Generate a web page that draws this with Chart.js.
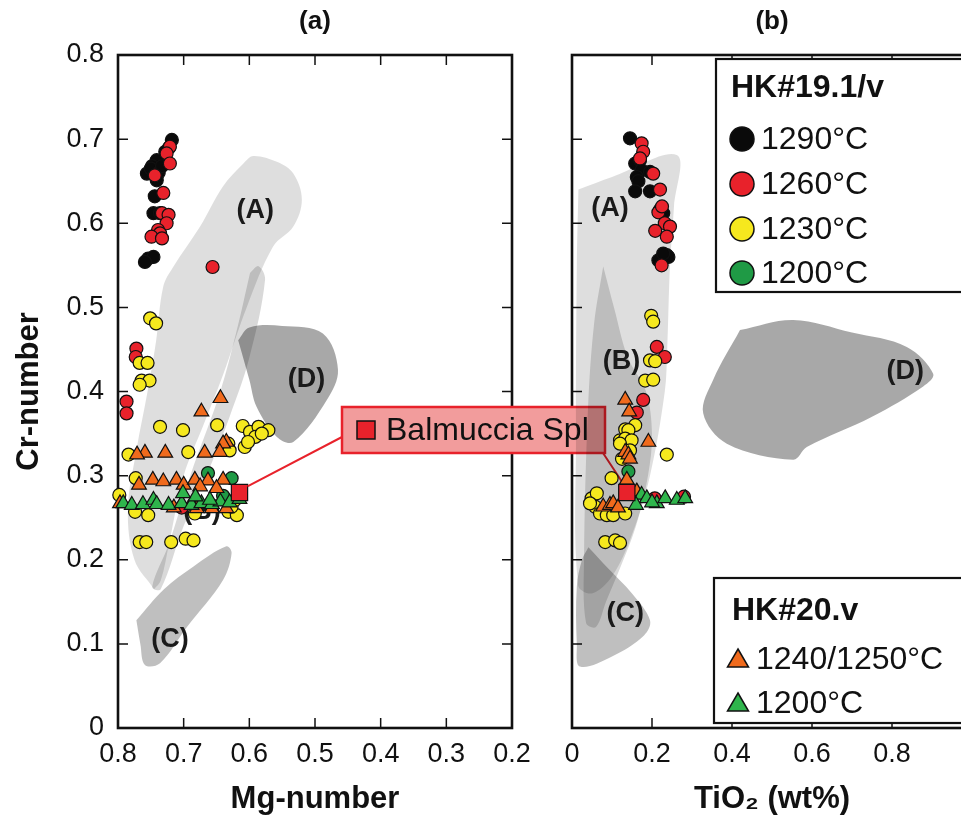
<!DOCTYPE html>
<html>
<head>
<meta charset="utf-8">
<script src="https://cdn.jsdelivr.net/npm/chart.js@4.4.1/dist/chart.umd.min.js"></script>
<style>
  html, body { margin: 0; padding: 0; background: #fff; overflow: hidden; }
  #wrap { position: relative; width: 961px; height: 824px; overflow: hidden; background: #fff; }
  #wrap canvas { position: absolute; left: 0; top: 0; }
</style>
</head>
<body>
<div id="wrap">
  <canvas id="mg-graph" width="1000" height="824"></canvas>
  <canvas id="ti-graph" width="1000" height="824"></canvas>
</div>
<script>
Chart.defaults.font.family = "'Liberation Sans', Arial, Helvetica, sans-serif";
Chart.defaults.color = '#111';

// ---------- panel (a): Mg-number vs Cr-number ----------
const mg1290 = [0.718, 0.722, 0.728, 0.741, 0.748, 0.756, 0.750, 0.738, 0.741, 0.744, 0.746, 0.736, 0.754, 0.746, 0.759, 0.733];
const crA1290 = [0.699, 0.690, 0.685, 0.675, 0.668, 0.659, 0.665, 0.660, 0.651, 0.632, 0.612, 0.612, 0.558, 0.560, 0.554, 0.668];

const mg1260 = [0.721, 0.726, 0.721, 0.744, 0.731, 0.733, 0.723, 0.726, 0.739, 0.736, 0.749, 0.733, 0.656, 0.772, 0.773, 0.787, 0.787, 0.703];
const crA1260 = [0.691, 0.683, 0.671, 0.657, 0.636, 0.612, 0.610, 0.600, 0.592, 0.588, 0.584, 0.582, 0.548, 0.451, 0.441, 0.388, 0.374, 0.262];

const mg1230 = [0.751, 0.742, 0.767, 0.755, 0.764, 0.752, 0.767,
  0.736, 0.701, 0.649, 0.610, 0.599, 0.586, 0.571, 0.591, 0.607, 0.602, 0.581, 0.632,
  0.784, 0.693, 0.630, 0.773, 0.798,
  0.774, 0.754, 0.683, 0.632, 0.619, 0.627, 0.622,
  0.767, 0.757, 0.719, 0.697, 0.685];
const crA1230 = [0.487, 0.481, 0.434, 0.434, 0.413, 0.413, 0.408,
  0.358, 0.354, 0.360, 0.359, 0.352, 0.358, 0.354, 0.346, 0.334, 0.340, 0.350, 0.338,
  0.325, 0.328, 0.330, 0.297, 0.277,
  0.257, 0.253, 0.255, 0.257, 0.253, 0.263, 0.271,
  0.221, 0.221, 0.221, 0.225, 0.223];

const mg1200 = [0.663, 0.627, 0.640];
const crA1200 = [0.303, 0.297, 0.276];

const mgT1245 = [0.644, 0.673, 0.635, 0.640, 0.759, 0.771, 0.728, 0.668, 0.645,
  0.768, 0.747, 0.731, 0.711, 0.700, 0.683, 0.663, 0.640, 0.675, 0.650,
  0.797, 0.680, 0.657, 0.635, 0.715];
const crAT1245 = [0.392, 0.376, 0.340, 0.338, 0.327, 0.325, 0.327, 0.327, 0.328,
  0.289, 0.295, 0.293, 0.295, 0.289, 0.295, 0.294, 0.295, 0.287, 0.285,
  0.267, 0.261, 0.261, 0.261, 0.262];

const mgT1200 = [0.792, 0.779, 0.762, 0.746, 0.741, 0.723, 0.703, 0.688, 0.673, 0.657, 0.644, 0.682, 0.660, 0.630, 0.615, 0.701];
const crAT1200 = [0.267, 0.265, 0.266, 0.271, 0.266, 0.265, 0.267, 0.265, 0.267, 0.266, 0.269, 0.275, 0.271, 0.268, 0.272, 0.279];

// ---------- panel (b): TiO2 vs Cr-number ----------
const ti1290 = [0.145, 0.158, 0.170, 0.174, 0.195, 0.162, 0.166, 0.158, 0.195, 0.220, 0.228, 0.216, 0.237, 0.241, 0.228];
const crB1290 = [0.701, 0.671, 0.675, 0.663, 0.661, 0.655, 0.650, 0.638, 0.638, 0.616, 0.612, 0.556, 0.562, 0.560, 0.564];

const ti1260 = [0.174, 0.178, 0.170, 0.203, 0.220, 0.216, 0.232, 0.208, 0.245, 0.237, 0.225, 0.224, 0.212, 0.232, 0.178, 0.162, 0.207, 0.280];
const crB1260 = [0.695, 0.685, 0.677, 0.659, 0.640, 0.613, 0.600, 0.591, 0.596, 0.584, 0.620, 0.550, 0.453, 0.441, 0.390, 0.375, 0.273, 0.275];

const ti1230 = [0.198, 0.203, 0.195, 0.208, 0.183, 0.203,
  0.158, 0.133, 0.141, 0.120, 0.133, 0.149, 0.120, 0.145, 0.125,
  0.237, 0.099,
  0.049, 0.062, 0.058, 0.070, 0.087, 0.103, 0.133, 0.045,
  0.083, 0.108, 0.120];
const crB1230 = [0.490, 0.483, 0.437, 0.436, 0.413, 0.414,
  0.360, 0.355, 0.354, 0.342, 0.344, 0.342, 0.338, 0.330, 0.320,
  0.325, 0.297,
  0.273, 0.279, 0.263, 0.255, 0.253, 0.253, 0.255, 0.267,
  0.221, 0.223, 0.220];

const ti1200 = [0.141];
const crB1200 = [0.305];

const tiT1245 = [0.133, 0.143, 0.191, 0.133, 0.141, 0.145, 0.137, 0.078, 0.095, 0.103, 0.162, 0.115];
const crBT1245 = [0.390, 0.376, 0.340, 0.328, 0.325, 0.320, 0.295, 0.263, 0.265, 0.267, 0.281, 0.262];

const tiT1200 = [0.174, 0.187, 0.212, 0.233, 0.262, 0.283, 0.200, 0.160];
const crBT1200 = [0.277, 0.273, 0.267, 0.273, 0.271, 0.273, 0.268, 0.265];

// Balmuccia spinel reference
const balMg = [0.615];
const balTi = [0.137];
const balCr = [0.280];

// ---------- literature fields (outlines) ----------
const fieldA_mg = [[0.745, 0.165], [0.775, 0.20], [0.785, 0.26], [0.772, 0.33], [0.755, 0.40], [0.742, 0.46], [0.731, 0.525], [0.716, 0.548],
  [0.675, 0.596], [0.640, 0.644], [0.609, 0.671], [0.594, 0.680], [0.558, 0.673], [0.533, 0.659], [0.520, 0.628], [0.533, 0.596],
  [0.564, 0.572], [0.604, 0.500], [0.640, 0.420], [0.670, 0.360], [0.700, 0.300], [0.722, 0.220], [0.735, 0.175]];
const fieldB_mg = [[0.599, 0.541], [0.586, 0.549], [0.576, 0.533], [0.600, 0.440], [0.630, 0.370], [0.660, 0.310], [0.700, 0.240], [0.735, 0.165],
  [0.748, 0.168], [0.722, 0.220], [0.690, 0.300], [0.645, 0.398], [0.620, 0.470]];
const fieldC_mg = [[0.772, 0.128], [0.730, 0.165], [0.685, 0.192], [0.635, 0.216], [0.627, 0.208], [0.640, 0.176], [0.695, 0.120],
  [0.736, 0.077], [0.759, 0.075], [0.766, 0.100]];
const fieldD_mg = [[0.617, 0.461], [0.600, 0.476], [0.550, 0.478], [0.488, 0.469], [0.465, 0.426], [0.482, 0.390], [0.533, 0.340],
  [0.558, 0.346], [0.589, 0.382], [0.600, 0.414]];

const fieldA_ti = [[0.016, 0.640], [0.100, 0.655], [0.262, 0.681], [0.255, 0.620], [0.245, 0.550], [0.238, 0.450], [0.232, 0.400],
  [0.195, 0.300], [0.150, 0.230], [0.100, 0.180], [0.050, 0.160], [0.015, 0.170], [0.010, 0.350], [0.012, 0.550]];
const fieldB_ti = [[0.078, 0.549], [0.105, 0.500], [0.140, 0.440], [0.185, 0.400], [0.200, 0.350], [0.190, 0.300], [0.160, 0.240],
  [0.120, 0.190], [0.085, 0.150], [0.060, 0.120], [0.035, 0.125], [0.030, 0.200], [0.040, 0.380], [0.055, 0.480]];
const fieldC_ti = [[0.041, 0.215], [0.090, 0.190], [0.150, 0.160], [0.195, 0.128], [0.180, 0.110], [0.100, 0.085], [0.020, 0.073],
  [0.012, 0.100], [0.012, 0.168], [0.025, 0.200]];
const fieldD_ti = [[0.420, 0.473], [0.553, 0.485], [0.700, 0.470], [0.837, 0.453], [0.903, 0.421], [0.878, 0.406], [0.750, 0.370],
  [0.587, 0.334], [0.553, 0.319], [0.387, 0.338], [0.328, 0.374], [0.353, 0.414]];

const fieldTagsA = [['(A)', 0.591, 0.615], ['(B)', 0.672, 0.257], ['(C)', 0.721, 0.105], ['(D)', 0.513, 0.414]];
const fieldTagsB = [['(A)', 0.095, 0.618], ['(B)', 0.124, 0.436], ['(C)', 0.133, 0.136], ['(D)', 0.833, 0.424]];

const yTicks = [0.1, 0.2, 0.3, 0.4, 0.5, 0.6, 0.7];
const mgTicks = [0.3, 0.4, 0.5, 0.6, 0.7];
const tiTicks = [0.2, 0.4, 0.6, 0.8];

const C_BLACK = '#0a0a0a', C_RED = '#e8222b', C_YELLOW = '#f6e81e', C_GREEN = '#1f9a45';
const C_ORANGE = '#f06a1c', C_GREEN_T = '#2fb54c';

function pts(xs, ys) {
  return xs.map((x, i) => ({x: x, y: ys[i]}));
}

function field(label, outline, color, order) {
  const data = outline.map(p => ({x: p[0], y: p[1]}));
  data.push(data[0]);
  return {
    label: label, data: data, showLine: true, fill: 'shape', tension: 0.35,
    backgroundColor: color, borderColor: 'rgba(0,0,0,0)', borderWidth: 1,
    pointRadius: 0, order: order
  };
}

function series(label, data, style, color, radius, order) {
  return {
    label: label, data: data, pointStyle: style, pointRadius: radius,
    backgroundColor: color, borderColor: '#111', borderWidth: 1.2,
    showLine: false, clip: false, order: order
  };
}

function fmt(v) {
  if (Math.abs(v) < 1e-9) return '0';
  return (Math.round(v * 10) / 10).toString();
}

// frame, inward ticks and field labels
function decor(xTicks, tags) {
  return {
    id: 'decor',
    beforeDatasetsDraw(chart) {
      const {ctx, chartArea: a, scales} = chart;
      ctx.save();
      ctx.strokeStyle = '#111';
      ctx.lineWidth = 1.5;
      ctx.beginPath();
      xTicks.forEach(v => {
        const x = scales.x.getPixelForValue(v);
        ctx.moveTo(x, a.top); ctx.lineTo(x, a.top + 10);
        ctx.moveTo(x, a.bottom); ctx.lineTo(x, a.bottom - 10);
      });
      yTicks.forEach(v => {
        const y = scales.y.getPixelForValue(v);
        ctx.moveTo(a.left, y); ctx.lineTo(a.left + 10, y);
        ctx.moveTo(a.right, y); ctx.lineTo(a.right - 10, y);
      });
      ctx.stroke();
      ctx.lineWidth = 2.6;
      ctx.strokeRect(a.left, a.top, a.right - a.left, a.bottom - a.top);
      ctx.restore();
    },
    afterDatasetDraw(chart, args) {
      if (chart.data.datasets[args.index].label !== 'D') return;
      const {ctx, scales} = chart;
      ctx.save();
      ctx.font = "bold 27px 'Liberation Sans', Arial, sans-serif";
      ctx.fillStyle = '#1a1a1a';
      ctx.textAlign = 'center';
      ctx.textBaseline = 'middle';
      tags.forEach(t => {
        ctx.fillText(t[0], scales.x.getPixelForValue(t[1]), scales.y.getPixelForValue(t[2]));
      });
      ctx.restore();
    }
  };
}

const mgCtx = document.getElementById('mg-graph');
const tiCtx = document.getElementById('ti-graph');

const mgChart = new Chart(mgCtx, {
  type: 'scatter',
  data: {
    datasets: [
      field('A', fieldA_mg, 'rgba(0,0,0,0.13)', 14),
      field('B', fieldB_mg, 'rgba(0,0,0,0.15)', 13),
      field('C', fieldC_mg, 'rgba(0,0,0,0.25)', 12),
      field('D', fieldD_mg, 'rgba(0,0,0,0.34)', 11),
      series('1290', pts(mg1290, crA1290), 'circle', C_BLACK, 6.5, 7),
      series('1260', pts(mg1260, crA1260), 'circle', C_RED, 6.5, 6),
      series('1230', pts(mg1230, crA1230), 'circle', C_YELLOW, 6.5, 5),
      series('1200', pts(mg1200, crA1200), 'circle', C_GREEN, 6.5, 4),
      series('1240/1250', pts(mgT1245, crAT1245), 'triangle', C_ORANGE, 8.5, 3),
      series('1200 T', pts(mgT1200, crAT1200), 'triangle', C_GREEN_T, 8.5, 2),
      series('Balmuccia', pts(balMg, balCr), 'rect', C_RED, 11.5, 1)
    ]
  },
  options: {
    responsive: false,
    animation: false,
    events: [],
    layout: { padding: { left: 0, right: 488, top: 0, bottom: 0 } },
    scales: {
      x: {
        type: 'linear', reverse: true, min: 0.2, max: 0.8,
        grid: { display: false, drawTicks: false },
        border: { display: false },
        ticks: { stepSize: 0.1, padding: 10, font: { size: 27 }, color: '#111', callback: fmt },
        title: { display: true, text: 'Mg-number', font: { size: 31, weight: 'bold' }, color: '#111', padding: { top: 0, bottom: 6 } },
        afterFit: s => { s.height = 96; }
      },
      y: {
        type: 'linear', min: 0, max: 0.8,
        grid: { display: false, drawTicks: false },
        border: { display: false },
        ticks: { stepSize: 0.1, padding: 14, font: { size: 27 }, color: '#111', callback: fmt },
        title: { display: true, text: 'Cr-number', font: { size: 31, weight: 'bold' }, color: '#111', padding: { top: 11, bottom: 0 } },
        afterFit: s => { s.width = 118; }
      }
    },
    plugins: {
      legend: { display: false },
      tooltip: { enabled: false },
      title: { display: true, text: '(a)', fullSize: false, font: { size: 26, weight: 'bold' }, color: '#111', padding: { top: 6, bottom: 17.8 } }
    }
  },
  plugins: [decor(mgTicks, fieldTagsA)]
});

// red call-out joining the Balmuccia spinel in both panels, plus the two legends
const BOX = { left: 342, top: 407, width: 263, height: 46 };

const overlay = {
  id: 'overlay',
  beforeDatasetsDraw(chart) {
    const {ctx, scales} = chart;
    const ax = mgChart.scales.x.getPixelForValue(balMg[0]);
    const ay = mgChart.scales.y.getPixelForValue(balCr[0]);
    const bx = scales.x.getPixelForValue(balTi[0]);
    const by = scales.y.getPixelForValue(balCr[0]);
    ctx.save();
    ctx.strokeStyle = '#e8222b';
    ctx.lineWidth = 2;
    ctx.beginPath();
    ctx.moveTo(ax + 8, ay - 6);
    ctx.lineTo(BOX.left, BOX.top + 30);
    ctx.moveTo(BOX.left + BOX.width - 2, BOX.top + BOX.height);
    ctx.lineTo(bx - 3, by - 8);
    ctx.stroke();

    ctx.fillStyle = 'rgb(242,156,156)';
    ctx.fillRect(BOX.left, BOX.top, BOX.width, BOX.height);
    ctx.lineWidth = 2.5;
    ctx.strokeStyle = '#e8222b';
    ctx.strokeRect(BOX.left, BOX.top, BOX.width, BOX.height);

    ctx.fillStyle = C_RED;
    ctx.strokeStyle = '#111';
    ctx.lineWidth = 1.5;
    ctx.fillRect(357, 421, 18, 18);
    ctx.strokeRect(357, 421, 18, 18);

    ctx.fillStyle = '#111';
    ctx.font = "32px 'Liberation Sans', Arial, sans-serif";
    ctx.textBaseline = 'middle';
    ctx.fillText('Balmuccia Spl', 386, BOX.top + BOX.height / 2 + 1);
    ctx.restore();
  },
  afterDraw(chart) {
    const ctx = chart.ctx;
    ctx.save();
    const box = (l, t, r, b) => {
      ctx.fillStyle = '#fff';
      ctx.fillRect(l, t, r - l, b - t);
      ctx.strokeStyle = '#111';
      ctx.lineWidth = 2.2;
      ctx.strokeRect(l, t, r - l, b - t);
    };
    const circle = (x, y, c) => {
      ctx.beginPath();
      ctx.arc(x, y, 12, 0, Math.PI * 2);
      ctx.fillStyle = c; ctx.fill();
      ctx.lineWidth = 1.5; ctx.strokeStyle = '#111'; ctx.stroke();
    };
    const tri = (x, y, c) => {
      ctx.beginPath();
      ctx.moveTo(x, y - 10);
      ctx.lineTo(x + 10.5, y + 8);
      ctx.lineTo(x - 10.5, y + 8);
      ctx.closePath();
      ctx.fillStyle = c; ctx.fill();
      ctx.lineWidth = 1.5; ctx.strokeStyle = '#111'; ctx.stroke();
    };
    const bold = "bold 32px 'Liberation Sans', Arial, sans-serif";
    const plain = "32px 'Liberation Sans', Arial, sans-serif";
    ctx.textBaseline = 'middle';

    box(716, 59, 970, 292);
    ctx.fillStyle = '#111'; ctx.font = bold;
    ctx.fillText('HK#19.1/v', 731, 88);
    ctx.font = plain;
    [['1290°C', C_BLACK, 139], ['1260°C', C_RED, 184], ['1230°C', C_YELLOW, 229], ['1200°C', C_GREEN, 273]].forEach(e => {
      circle(742, e[2], e[1]);
      ctx.fillStyle = '#111';
      ctx.fillText(e[0], 761, e[2] + 1);
    });

    box(714, 578, 970, 723);
    ctx.fillStyle = '#111'; ctx.font = bold;
    ctx.fillText('HK#20.v', 732, 611);
    ctx.font = plain;
    [['1240/1250°C', C_ORANGE, 659], ['1200°C', C_GREEN_T, 703]].forEach(e => {
      tri(738, e[2], e[1]);
      ctx.fillStyle = '#111';
      ctx.fillText(e[0], 756, e[2] + 1);
    });
    ctx.restore();
  }
};

const tiChart = new Chart(tiCtx, {
  type: 'scatter',
  data: {
    datasets: [
      field('A', fieldA_ti, 'rgba(0,0,0,0.13)', 14),
      field('B', fieldB_ti, 'rgba(0,0,0,0.15)', 13),
      field('C', fieldC_ti, 'rgba(0,0,0,0.25)', 12),
      field('D', fieldD_ti, 'rgba(0,0,0,0.34)', 11),
      series('1290', pts(ti1290, crB1290), 'circle', C_BLACK, 6.5, 7),
      series('1260', pts(ti1260, crB1260), 'circle', C_RED, 6.5, 6),
      series('1230', pts(ti1230, crB1230), 'circle', C_YELLOW, 6.5, 5),
      series('1200', pts(ti1200, crB1200), 'circle', C_GREEN, 6.5, 4),
      series('1240/1250', pts(tiT1245, crBT1245), 'triangle', C_ORANGE, 8.5, 3),
      series('1200 T', pts(tiT1200, crBT1200), 'triangle', C_GREEN_T, 8.5, 2),
      series('Balmuccia', pts(balTi, balCr), 'rect', C_RED, 11.5, 1)
    ]
  },
  options: {
    responsive: false,
    animation: false,
    events: [],
    layout: { padding: { left: 572, right: 28, top: 0, bottom: 0 } },
    scales: {
      x: {
        type: 'linear', min: 0, max: 1,
        grid: { display: false, drawTicks: false },
        border: { display: false },
        ticks: { stepSize: 0.2, padding: 10, font: { size: 27 }, color: '#111', callback: fmt },
        title: { display: true, text: 'TiO₂ (wt%)', font: { size: 31, weight: 'bold' }, color: '#111', padding: { top: 0, bottom: 6 } },
        afterFit: s => { s.height = 96; }
      },
      y: { type: 'linear', min: 0, max: 0.8, display: false }
    },
    plugins: {
      legend: { display: false },
      tooltip: { enabled: false },
      title: { display: true, text: '(b)', fullSize: false, font: { size: 26, weight: 'bold' }, color: '#111', padding: { top: 6, bottom: 17.8 } }
    }
  },
  plugins: [decor(tiTicks, fieldTagsB), overlay]
});
</script>
</body>
</html>
